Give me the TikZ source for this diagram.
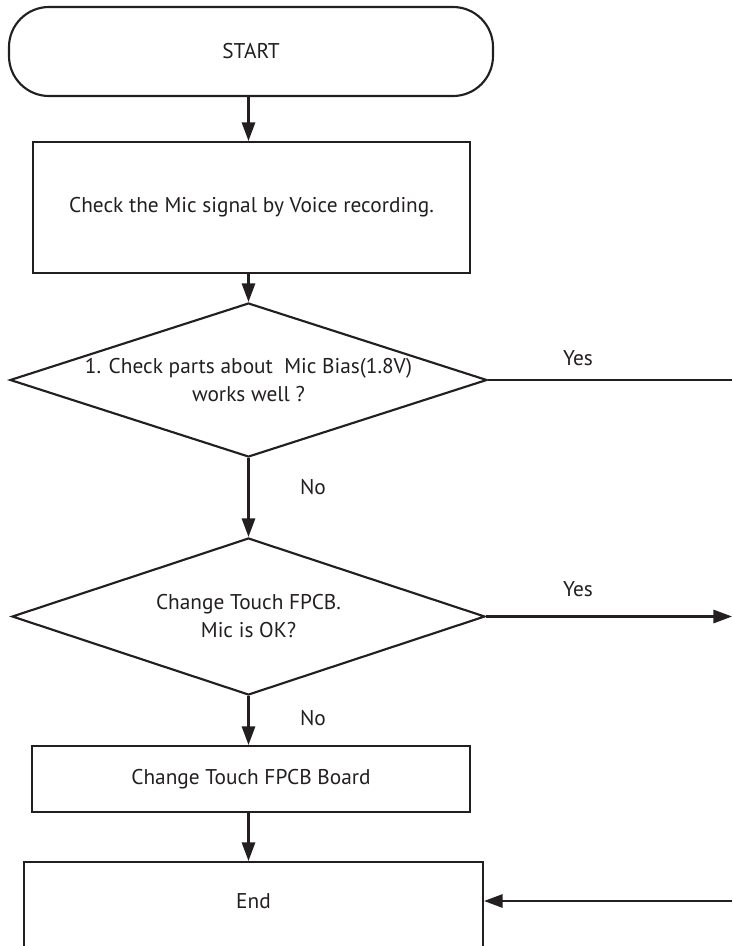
\documentclass[tikz,border=0pt]{standalone}
\usepackage{fontspec}
\setmainfont{PT Sans}
\usepackage{xcolor}
\usetikzlibrary{arrows.meta, positioning, calc, shapes.geometric}
\definecolor{ink}{HTML}{231F20}

\begin{document}
\begin{tikzpicture}[
		x=0.75pt, y=-0.75pt,
		font=\fontsize{16}{21}\selectfont,
		every node/.style={text=ink},
		box/.style={draw=ink, line width=1.6pt, rectangle, inner sep=0pt, align=center},
		term/.style={box, rounded corners=30pt},
		decision/.style={draw=ink, line width=1.6pt, diamond, inner sep=0pt, align=center},
		flow/.style={draw=ink, line width=1.6pt, -{Triangle[length=14pt, width=10pt]}},
		plain/.style={draw=ink, line width=1.6pt}
		]
		
		\useasboundingbox (0,0) rectangle (732,946);
		\clip (0,0) rectangle (732,946);
		
		% Start and first check
		\node[term, minimum width=363pt, minimum height=66.75pt] (start) at (251,51.5) {START};
		\node[box, minimum width=327.75pt, minimum height=98.25pt] (check) at (251.5,207.5)
		{Check the Mic signal by Voice recording.};
		
		% Decisions
		\node[decision, aspect=3.1, minimum width=357.75pt, minimum height=115.5pt] (bias) at (248.5,380)
		{1. Check parts about\ \ Mic Bias(1.8V)\\works well ?};
		\node[decision, aspect=3.0, minimum width=354.75pt, minimum height=117.75pt] (fpcb) at (248.5,616.5)
		{Change Touch FPCB.\\Mic is OK?};
		
		% Repair and end
		\node[box, minimum width=328.5pt, minimum height=49.5pt] (change) at (251,779)
		{Change Touch FPCB Board};
		\node[box, minimum width=344.25pt, minimum height=103.5pt] (end) at (253.5,931) {};
		\node (endtxt) at (253.5,901) {End};
		
		% Loose ends at the right border
		\coordinate (yesout1) at (732,380);
		\coordinate (yesout2) at (732,616.5);
		\coordinate (backin) at (732,901);
		
		% Main flow
		\draw[flow] (start.south -| bias.north) -- (check.north -| bias.north);
		\draw[flow] (check.south -| bias.north) -- (bias.north);
		\draw[flow] (bias.south) -- (fpcb.north);
		\draw[flow] (fpcb.south) -- (fpcb.south |- change.north);
		\draw[flow] (change.south -| fpcb.south) -- (end.north -| fpcb.south);
		
		% Yes branches
		\draw[plain] (bias.east) -- (yesout1);
		\draw[flow] (fpcb.east) -- (yesout2);
		\draw[flow] (backin) -- (backin -| end.east);
		
		% Branch labels
		\node (yes1) at (578,358) {Yes};
		\node (yes2) at (578,589) {Yes};
		\node (no1) at (313,487) {No};
		\node (no2) at (313,718) {No};
		
	\end{tikzpicture}
\end{document}
